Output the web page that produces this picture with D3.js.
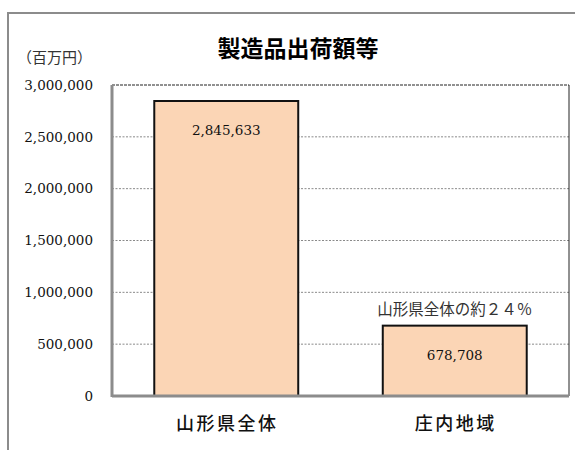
<!DOCTYPE html>
<html>
<head>
<meta charset="utf-8">
<script src="https://cdn.jsdelivr.net/npm/d3@7"></script>
<style>
  body { margin: 0; background: #fff; }
  svg { display: block; }
</style>
</head>
<body>
<div id="chart"></div>
<script>
// data
const categories = ['山形県全体', '庄内地域'];
const values = [2845633, 678708];
const yTicks = [0, 500000, 1000000, 1500000, 2000000, 2500000, 3000000];
const title = '製造品出荷額等';
const unitLabel = '（百万円）';
const note = '山形県全体の約２４％';

const width = 575, height = 450;
const margin = { top: 85, right: 6, bottom: 54, left: 112 };
const serif = '"DejaVu Serif", "Noto Sans CJK JP", serif';
const sans = '"Noto Sans CJK JP", sans-serif';

const svg = d3.select('#chart')
    .append('svg')
    .attr('width', width)
    .attr('height', height);

// outer frame (only top and left visible)
svg.append('path')
    .attr('d', `M8,${height} V13 H${width}`)
    .attr('fill', 'none')
    .attr('stroke', '#8c8c8c')
    .attr('stroke-width', 2);

const x = d3.scaleBand()
    .domain(categories)
    .range([margin.left, width - margin.right])
    .paddingInner(0.37)
    .paddingOuter(0.185);

const y = d3.scaleLinear()
    .domain([0, 3000000])
    .range([height - margin.bottom, margin.top]);

// gridlines
svg.append('g')
    .selectAll('line')
    .data(yTicks.filter(d => d > 0 && d < 3000000))
    .join('line')
    .attr('x1', margin.left)
    .attr('x2', width - margin.right)
    .attr('y1', d => y(d))
    .attr('y2', d => y(d))
    .attr('stroke', '#8a8a8a')
    .attr('stroke-width', 1)
    .attr('stroke-dasharray', '2,1.5');

// top border dashed, right border solid
svg.append('line')
    .attr('x1', margin.left).attr('x2', width - margin.right)
    .attr('y1', y(3000000)).attr('y2', y(3000000))
    .attr('stroke', '#222')
    .attr('stroke-dasharray', '3,1');
svg.append('line')
    .attr('x1', width - margin.right).attr('x2', width - margin.right)
    .attr('y1', y(3000000)).attr('y2', y(0))
    .attr('stroke', '#222');

// bars
svg.append('g')
    .selectAll('rect')
    .data(values)
    .join('rect')
    .attr('x', (d, i) => x(categories[i]))
    .attr('y', d => y(d))
    .attr('width', x.bandwidth())
    .attr('height', d => y(0) - y(d))
    .attr('fill', '#fbd5b5')
    .attr('stroke', '#111')
    .attr('stroke-width', 2);

// axes lines (gray, thick)
svg.append('line')
    .attr('x1', margin.left).attr('x2', margin.left)
    .attr('y1', y(3000000)).attr('y2', y(0) + 1)
    .attr('stroke', '#8c8c8c').attr('stroke-width', 3);
svg.append('line')
    .attr('x1', margin.left).attr('x2', width - margin.right)
    .attr('y1', y(0)).attr('y2', y(0))
    .attr('stroke', '#8c8c8c').attr('stroke-width', 3);

// y tick labels
svg.append('g')
    .selectAll('text')
    .data(yTicks)
    .join('text')
    .attr('x', 93)
    .attr('y', d => y(d))
    .attr('dy', '0.35em')
    .attr('text-anchor', 'end')
    .attr('font-family', serif)
    .attr('font-size', 13.5)
    .attr('fill', '#111')
    .text(d => d3.format(',')(d));

// value labels
svg.append('g')
    .selectAll('text')
    .data(values)
    .join('text')
    .attr('x', (d, i) => x(categories[i]) + x.bandwidth() / 2)
    .attr('y', d => y(d) + 34)
    .attr('text-anchor', 'middle')
    .attr('font-family', serif)
    .attr('font-size', 13.5)
    .attr('fill', '#111')
    .text(d => d3.format(',')(d));

// x labels
svg.append('g')
    .selectAll('text')
    .data(categories)
    .join('text')
    .attr('x', d => x(d) + x.bandwidth() / 2 + 1)
    .attr('y', height - 20)
    .attr('text-anchor', 'middle')
    .attr('font-family', sans)
    .attr('font-size', 18)
    .attr('letter-spacing', 2.5)
    .attr('font-weight', 500)
    .attr('fill', '#111')
    .text(d => d);

// note above second bar
svg.append('text')
    .attr('x', x(categories[1]) + x.bandwidth() / 2)
    .attr('y', y(values[1]) - 11)
    .attr('text-anchor', 'middle')
    .attr('font-family', serif)
    .attr('font-size', 15.5)
    .attr('fill', '#333')
    .text(note);

// title
svg.append('text')
    .attr('x', 298)
    .attr('y', 57)
    .attr('text-anchor', 'middle')
    .attr('font-family', sans)
    .attr('font-size', 23)
    .attr('font-weight', 'bold')
    .attr('fill', '#000')
    .text(title);

// unit label
svg.append('text')
    .attr('x', 17)
    .attr('y', 63)
    .attr('font-family', serif)
    .attr('font-size', 15)
    .attr('fill', '#333')
    .text(unitLabel);
</script>
</body>
</html>
